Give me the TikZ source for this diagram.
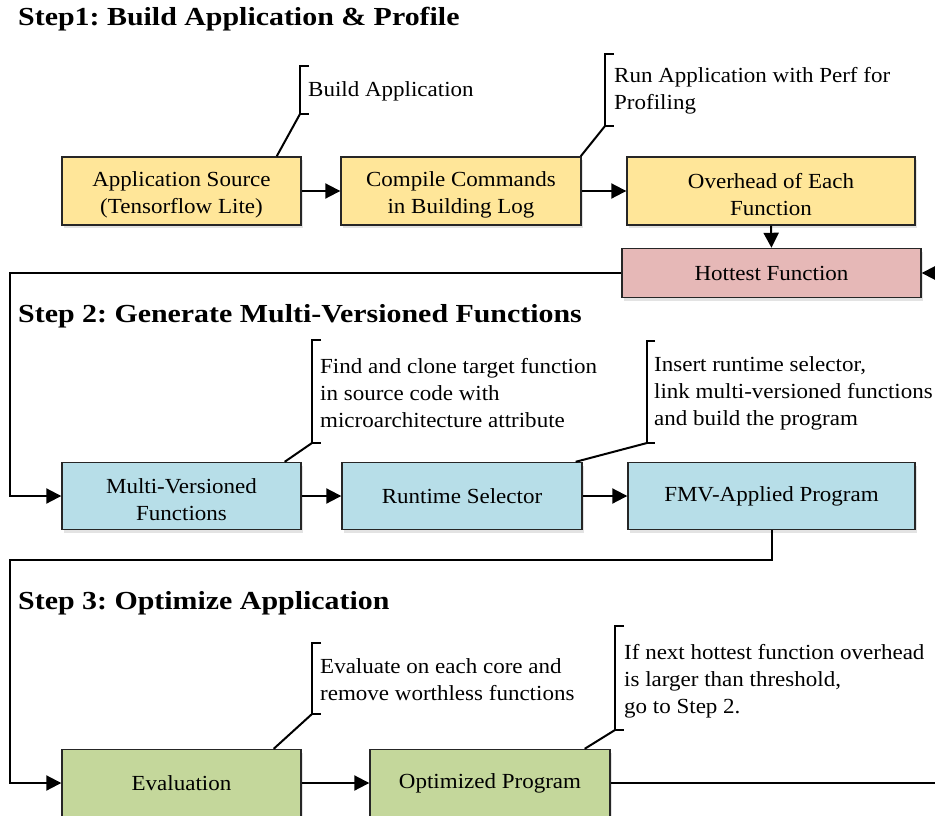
\documentclass[tikz,border=0pt]{standalone}
\usepackage{fontspec}
\setmainfont{Liberation Serif}[FakeStretch=1.07]
\newfontfamily\titlefont{Liberation Serif}[FakeStretch=1.15]
\usetikzlibrary{arrows.meta,shadows,calc}
\definecolor{cyellow}{RGB}{255,230,153}
\definecolor{cpink}{RGB}{230,184,183}
\definecolor{cblue}{RGB}{183,222,232}
\definecolor{cgreen}{RGB}{196,215,155}
\newcommand{\toppad}{\rule{0pt}{22pt}}
\tikzset{
  box/.style={draw=black!85, line width=1.4pt, align=center, inner sep=0pt,
    drop shadow={shadow xshift=2pt, shadow yshift=-3pt, opacity=0.22}},
  ybox/.style={box, fill=cyellow},
  pbox/.style={box, fill=cpink},
  bbox/.style={box, fill=cblue},
  gbox/.style={box, fill=cgreen},
  flow/.style={line width=2pt, -{Triangle[length=15pt,width=15pt]}},
  plain/.style={line width=2pt},
  brack/.style={line width=2pt},
  note/.style={anchor=west, align=left, inner sep=0pt},
  steptitle/.style={anchor=west, inner sep=0pt, font=\titlefont\fontsize{26}{30}\selectfont\bfseries},
}
\begin{document}
\frenchspacing
\begin{tikzpicture}[x=1pt,y=-1pt,font=\fontsize{21.5}{27}\selectfont]
\useasboundingbox (0,0) rectangle (935,816);
\clip (0,0) rectangle (935,816);
\fill[white] (0,0) rectangle (935,816);

% titles
\node[steptitle] (t1) at (18,19) {Step1: Build Application \& Profile};
\node[steptitle] (t2) at (18,316) {Step 2: Generate Multi-Versioned Functions};
\node[steptitle] (t3) at (18,603) {Step 3: Optimize Application};

% boxes
\node[ybox, minimum width=239pt, minimum height=68pt] (src) at (181.5,191) {\toppad Application Source\\(Tensorflow Lite)};
\node[ybox, minimum width=240pt, minimum height=68pt] (cmp) at (461,191) {\toppad Compile Commands\\in Building Log};
\node[ybox, minimum width=288pt, minimum height=68pt] (ovh) at (771,191) {\toppad Overhead of Each\\Function};
\node[pbox, minimum width=299pt, minimum height=49pt] (hot) at (771.5,273) {Hottest Function};

\node[bbox, minimum width=239pt, minimum height=67pt] (mvf) at (181.5,496) {\toppad Multi-Versioned\\Functions};
\node[bbox, minimum width=240pt, minimum height=67pt] (rts) at (462,496) {Runtime Selector};
\node[bbox, minimum width=287pt, minimum height=67pt] (fmv) at (771.5,496) {FMV-Applied Program};

\node[gbox, minimum width=239pt, minimum height=67pt] (eva) at (181.5,783) {Evaluation};
\node[gbox, minimum width=240pt, minimum height=67pt] (opt) at (490,783) {Optimized Program};

% connectors
\draw[flow] (src.east) -- (cmp.west);
\draw[flow] (cmp.east) -- (ovh.west);
\draw[flow] (ovh.south) -- (hot.north);
\coordinate (l1) at (10,273);
\draw[flow] (hot.west) -- (l1) |- (mvf.west);
\draw[flow] (mvf.east) -- (rts.west);
\draw[flow] (rts.east) -- (fmv.west);
\coordinate (m1) at (771.5,560);
\coordinate (m2) at (10,560);
\draw[flow] (fmv.south) -- (m1) -- (m2) |- (eva.west);
\draw[flow] (eva.east) -- (opt.west);
\coordinate (r1) at (946,783);
\draw[flow] (opt.east) -- (r1) |- (hot.east);

% callout 1
\coordinate (b1t) at (300,66); \coordinate (b1b) at (300,114);
\draw[brack] ($(b1t)+(9,0)$) -- (b1t) -- (b1b) -- ($(b1b)+(9,0)$);
\draw[plain] (b1b) -- ([xshift=-25pt]src.north east);
\node[note] (n1) at (308,91) {Build Application};

% callout 2
\coordinate (b2t) at (605,54); \coordinate (b2b) at (605,126);
\draw[brack] ($(b2t)+(9,0)$) -- (b2t) -- (b2b) -- ($(b2b)+(9,0)$);
\draw[plain] (b2b) -- ([xshift=-1pt]cmp.north east);
\node[note] (n2) at (614,91) {Run Application with Perf for\\Profiling};

% callout 3
\coordinate (b3t) at (312,340); \coordinate (b3b) at (312,443);
\draw[brack] ($(b3t)+(9,0)$) -- (b3t) -- (b3b) -- ($(b3b)+(9,0)$);
\draw[plain] (b3b) -- ([xshift=-17pt]mvf.north east);
\node[note] (n3) at (320,393) {Find and clone target function\\in source code with\\microarchitecture attribute};

% callout 4
\coordinate (b4t) at (647,341); \coordinate (b4b) at (647,443);
\draw[brack] ($(b4t)+(8,0)$) -- (b4t) -- (b4b) -- ($(b4b)+(8,0)$);
\draw[plain] (b4b) -- ([xshift=-7pt]rts.north east);
\node[note] (n4) at (654,393) {Insert runtime selector,\\link multi-versioned functions\\and build the program};

% callout 5
\coordinate (b5t) at (312,643); \coordinate (b5b) at (312,714);
\draw[brack] ($(b5t)+(9,0)$) -- (b5t) -- (b5b) -- ($(b5b)+(9,0)$);
\draw[plain] (b5b) -- ([xshift=-28pt]eva.north east);
\node[note] (n5) at (320,680) {Evaluate on each core and\\remove worthless functions};

% callout 6
\coordinate (b6t) at (615,626); \coordinate (b6b) at (615,730);
\draw[brack] ($(b6t)+(9,0)$) -- (b6t) -- (b6b) -- ($(b6b)+(9,0)$);
\draw[plain] (b6b) -- ([xshift=-26pt]opt.north east);
\node[note] (n6) at (624,681) {If next hottest function overhead\\is larger than threshold,\\go to Step 2.};
\end{tikzpicture}
\end{document}
